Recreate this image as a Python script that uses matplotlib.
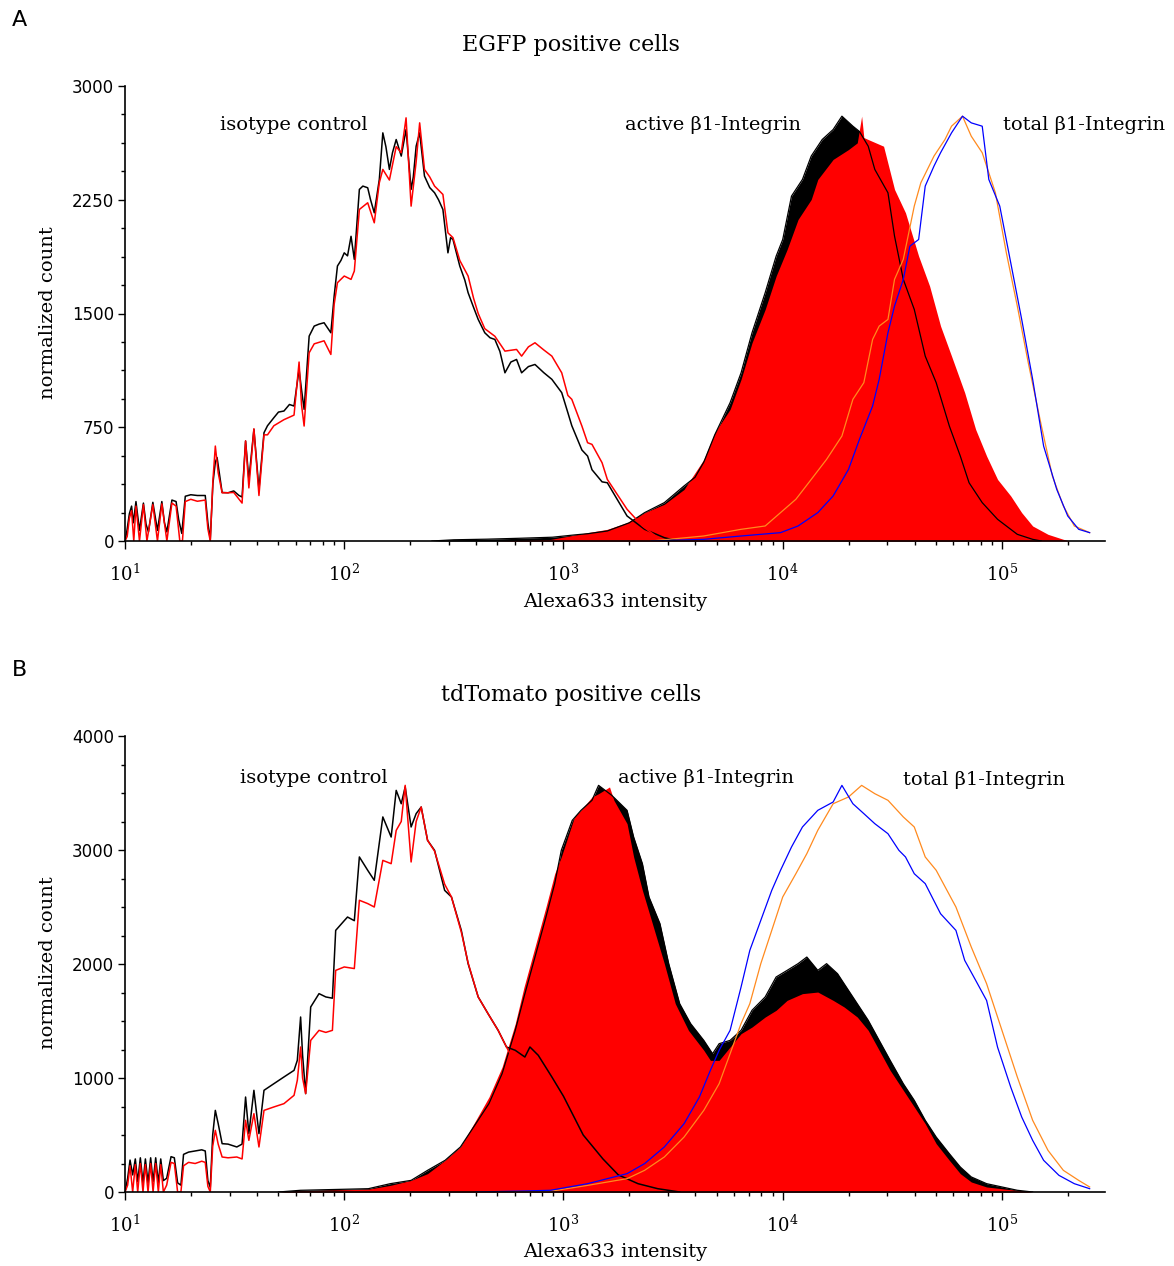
import numpy as np
import matplotlib
matplotlib.use("Agg")
import matplotlib.pyplot as plt
from matplotlib.ticker import MultipleLocator, LogLocator, FuncFormatter

# DATA ###############################################################
# each curve: (log10 Alexa633 intensity, normalized count)

# --- A: EGFP positive cells ---
A_ISO_BLACK = [
    (1.000, 0), (1.008, 60), (1.020, 180), (1.030, 230), (1.038, 120), (1.050, 260),
    (1.066, 70), (1.084, 250), (1.096, 110), (1.107, 60), (1.127, 255), (1.148, 70),
    (1.168, 260), (1.180, 120), (1.191, 60), (1.214, 270), (1.233, 260), (1.245, 140),
    (1.259, 50), (1.275, 295), (1.30, 305), (1.33, 300), (1.366, 300), (1.378, 120),
    (1.389, 10), (1.401, 380), (1.412, 520), (1.420, 550), (1.443, 320), (1.47, 318),
    (1.496, 330), (1.52, 300), (1.534, 290), (1.55, 659), (1.565, 406), (1.588, 736),
    (1.611, 340), (1.634, 714), (1.65, 760), (1.679, 813), (1.70, 850), (1.725, 857),
    (1.75, 900), (1.771, 890), (1.794, 1131), (1.805, 1000), (1.817, 868), (1.84, 1351),
    (1.863, 1417), (1.885, 1430), (1.908, 1439), (1.939, 1373), (1.954, 1615),
    (1.969, 1813), (1.985, 1850), (2.0, 1900), (2.015, 1880), (2.031, 2009),
    (2.046, 1857), (2.069, 2318), (2.085, 2340), (2.107, 2329), (2.12, 2250),
    (2.137, 2164), (2.16, 2384), (2.176, 2691), (2.19, 2600), (2.206, 2450),
    (2.22, 2560), (2.237, 2647), (2.26, 2538), (2.282, 2713), (2.305, 2318),
    (2.315, 2400), (2.328, 2603), (2.344, 2691), (2.366, 2406), (2.39, 2330),
    (2.412, 2296), (2.43, 2250), (2.45, 2186), (2.473, 1900), (2.485, 2000),
    (2.496, 1988), (2.527, 1813), (2.55, 1720), (2.565, 1637), (2.59, 1540),
    (2.611, 1461), (2.641, 1373), (2.665, 1340), (2.687, 1329), (2.71, 1250),
    (2.733, 1109), (2.76, 1180), (2.786, 1197), (2.809, 1109), (2.84, 1150),
    (2.87, 1164), (2.91, 1110), (2.947, 1066), (2.992, 978), (3.02, 846), (3.038, 760),
    (3.084, 600), (3.11, 560), (3.13, 470), (3.176, 390), (3.20, 384), (3.29, 165),
    (3.37, 77), (3.46, 22), (3.52, 0)]
A_ISO_RED = [
    (1.000, 0), (1.010, 30), (1.020, 150), (1.030, 200), (1.040, 0), (1.050, 230),
    (1.066, 0), (1.084, 240), (1.100, 0), (1.127, 240), (1.148, 0), (1.168, 245),
    (1.191, 0), (1.214, 250), (1.233, 230), (1.250, 0), (1.262, 0), (1.275, 260),
    (1.30, 275), (1.33, 262), (1.366, 270), (1.378, 80), (1.389, 0), (1.401, 400),
    (1.412, 626), (1.425, 450), (1.443, 318), (1.47, 318), (1.496, 320), (1.534, 250),
    (1.55, 660), (1.565, 350), (1.588, 740), (1.611, 300), (1.634, 700), (1.65, 700),
    (1.679, 760), (1.725, 800), (1.771, 830), (1.794, 1180), (1.805, 900), (1.817, 758),
    (1.84, 1241), (1.863, 1300), (1.908, 1320), (1.939, 1230), (1.954, 1560),
    (1.969, 1703), (2.0, 1747), (2.031, 1725), (2.046, 1780), (2.069, 2186),
    (2.107, 2230), (2.137, 2098), (2.16, 2362), (2.176, 2450), (2.206, 2380),
    (2.237, 2600), (2.26, 2560), (2.282, 2790), (2.305, 2208), (2.328, 2500),
    (2.344, 2757), (2.366, 2450), (2.39, 2400), (2.412, 2340), (2.45, 2285),
    (2.473, 2032), (2.496, 2000), (2.527, 1850), (2.565, 1747), (2.59, 1600),
    (2.611, 1500), (2.641, 1400), (2.687, 1350), (2.733, 1252), (2.786, 1263),
    (2.809, 1219), (2.84, 1280), (2.87, 1307), (2.91, 1260), (2.947, 1219),
    (2.992, 1109), (3.02, 960), (3.038, 934), (3.084, 758), (3.11, 648), (3.13, 637),
    (3.176, 516), (3.20, 406), (3.29, 209), (3.36, 99), (3.43, 22), (3.47, 0)]
A_ACTIVE_BLACK = [
    (2.40, 0), (2.50, 8), (2.65, 12), (2.80, 18), (2.95, 25), (3.05, 40), (3.11, 48),
    (3.20, 66), (3.30, 120), (3.37, 187), (3.46, 253), (3.55, 363), (3.60, 420),
    (3.64, 520), (3.69, 700), (3.76, 912), (3.81, 1109), (3.86, 1373), (3.92, 1637),
    (3.97, 1878), (4.00, 1988), (4.04, 2274), (4.09, 2384), (4.13, 2538), (4.18, 2647),
    (4.23, 2713), (4.27, 2801), (4.32, 2735), (4.35, 2700), (4.39, 2603), (4.42, 2450),
    (4.48, 2296), (4.51, 2010), (4.55, 1725), (4.60, 1527), (4.65, 1219), (4.70, 1044),
    (4.76, 758), (4.81, 560), (4.85, 384), (4.91, 253), (4.98, 143), (5.07, 44),
    (5.14, 11), (5.18, 0)]
A_ACTIVE_RED = [
    (2.70, 0), (2.94, 10), (3.11, 55), (3.20, 77), (3.29, 121), (3.37, 187), (3.46, 242),
    (3.55, 340), (3.64, 538), (3.69, 714), (3.76, 868), (3.81, 1066), (3.86, 1307),
    (3.92, 1527), (3.97, 1747), (4.02, 1922), (4.07, 2120), (4.13, 2252), (4.16, 2384),
    (4.23, 2516), (4.30, 2581), (4.34, 2625), (4.36, 2801), (4.37, 2660), (4.39, 2647),
    (4.46, 2603), (4.51, 2318), (4.56, 2164), (4.62, 1878), (4.67, 1681), (4.72, 1417),
    (4.77, 1219), (4.83, 978), (4.88, 736), (4.93, 560), (4.98, 406), (5.04, 297),
    (5.09, 187), (5.14, 99), (5.21, 44), (5.28, 11), (5.31, 0)]
A_TOTAL_ORANGE = [
    (3.40, 0), (3.64, 33), (3.81, 77), (3.92, 99), (3.99, 187), (4.06, 275), (4.13, 406),
    (4.20, 538), (4.27, 692), (4.32, 934), (4.37, 1044), (4.41, 1329), (4.44, 1417),
    (4.48, 1461), (4.51, 1725), (4.55, 1857), (4.60, 2208), (4.63, 2362), (4.69, 2538),
    (4.74, 2647), (4.77, 2735), (4.82, 2801), (4.86, 2669), (4.91, 2560), (4.97, 2296),
    (5.02, 1900), (5.07, 1549), (5.12, 1175), (5.18, 758), (5.23, 428), (5.28, 231),
    (5.33, 99), (5.40, 55)]
A_TOTAL_BLUE = [
    (3.40, 0), (3.64, 11), (3.81, 33), (3.99, 55), (4.07, 99), (4.16, 187), (4.23, 297),
    (4.30, 472), (4.35, 670), (4.41, 890), (4.44, 1066), (4.48, 1373), (4.51, 1549),
    (4.55, 1725), (4.58, 1944), (4.62, 1988), (4.65, 2340), (4.69, 2472), (4.72, 2560),
    (4.77, 2691), (4.82, 2801), (4.86, 2757), (4.91, 2735), (4.94, 2384), (4.99, 2208),
    (5.04, 1835), (5.09, 1461), (5.14, 1066), (5.19, 626), (5.25, 340), (5.30, 165),
    (5.35, 77), (5.40, 55)]

# --- B: tdTomato positive cells ---
B_ISO_BLACK = [
    (1.0, 0), (1.012, 120), (1.023, 280), (1.035, 150), (1.047, 290), (1.058, 90),
    (1.07, 300), (1.082, 80), (1.093, 290), (1.105, 80), (1.117, 300), (1.128, 90),
    (1.14, 300), (1.152, 80), (1.163, 290), (1.175, 100), (1.19, 120), (1.21, 310),
    (1.225, 300), (1.24, 80), (1.255, 60), (1.267, 330), (1.29, 350), (1.32, 360),
    (1.35, 370), (1.366, 360), (1.378, 100), (1.389, 40), (1.40, 500), (1.412, 716),
    (1.425, 600), (1.443, 424), (1.47, 420), (1.51, 395), (1.534, 420), (1.55, 833),
    (1.565, 512), (1.588, 892), (1.611, 512), (1.634, 892), (1.679, 950), (1.725, 1009),
    (1.771, 1067), (1.786, 1155), (1.801, 1535), (1.81, 1200), (1.824, 863),
    (1.847, 1623), (1.885, 1740), (1.916, 1711), (1.946, 1700), (1.961, 2295),
    (2.0, 2380), (2.015, 2412), (2.046, 2380), (2.069, 2939), (2.107, 2822),
    (2.137, 2734), (2.176, 3290), (2.214, 3114), (2.237, 3523), (2.26, 3406),
    (2.278, 3553), (2.305, 3202), (2.328, 3319), (2.351, 3377), (2.38, 3085),
    (2.412, 2997), (2.458, 2646), (2.489, 2588), (2.534, 2295), (2.565, 2003),
    (2.611, 1711), (2.656, 1564), (2.702, 1418), (2.74, 1272), (2.78, 1243),
    (2.824, 1184), (2.847, 1272), (2.885, 1199), (2.947, 1009), (3.0, 840),
    (3.09, 500), (3.18, 290), (3.25, 150), (3.34, 73), (3.43, 29), (3.53, 0)]
B_ISO_RED = [
    (1.0, 0), (1.012, 60), (1.023, 230), (1.035, 0), (1.047, 240), (1.058, 0),
    (1.07, 250), (1.082, 0), (1.093, 240), (1.105, 0), (1.117, 250), (1.128, 0),
    (1.14, 250), (1.152, 0), (1.163, 240), (1.175, 0), (1.19, 60), (1.21, 260),
    (1.225, 250), (1.24, 0), (1.255, 0), (1.267, 230), (1.29, 260), (1.32, 250),
    (1.35, 270), (1.366, 260), (1.378, 50), (1.389, 0), (1.40, 400), (1.412, 541),
    (1.425, 420), (1.443, 307), (1.47, 300), (1.51, 307), (1.534, 290), (1.55, 629),
    (1.565, 453), (1.588, 687), (1.611, 395), (1.634, 716), (1.679, 746), (1.725, 775),
    (1.771, 848), (1.786, 980), (1.801, 1272), (1.81, 1000), (1.824, 863),
    (1.847, 1330), (1.885, 1418), (1.916, 1400), (1.946, 1418), (1.961, 1944),
    (2.0, 1974), (2.046, 1960), (2.069, 2559), (2.107, 2530), (2.137, 2500),
    (2.176, 2909), (2.214, 2880), (2.237, 3172), (2.26, 3250), (2.278, 3567),
    (2.305, 2895), (2.328, 3250), (2.351, 3377), (2.38, 3085), (2.412, 2990),
    (2.458, 2700), (2.489, 2588), (2.534, 2280), (2.565, 2010), (2.611, 1711),
    (2.656, 1564), (2.702, 1418), (2.74, 1272), (2.76, 1200)]
B_ACTIVE_BLACK = [
    (1.70, 0), (1.80, 15), (2.11, 29), (2.21, 73), (2.305, 102), (2.38, 190),
    (2.46, 278), (2.53, 395), (2.60, 599), (2.66, 775), (2.72, 1038), (2.78, 1418),
    (2.82, 1711), (2.87, 2061), (2.92, 2412), (2.96, 2705), (2.99, 2997), (3.04, 3260),
    (3.08, 3348), (3.13, 3436), (3.16, 3567), (3.22, 3480), (3.29, 3348), (3.32, 3114),
    (3.36, 2880), (3.39, 2588), (3.44, 2354), (3.48, 2003), (3.53, 1652), (3.58, 1477),
    (3.64, 1330), (3.68, 1213), (3.71, 1301), (3.76, 1330), (3.81, 1418), (3.86, 1594),
    (3.92, 1711), (3.97, 1886), (4.02, 1944), (4.07, 2003), (4.11, 2061), (4.16, 1944),
    (4.20, 2003), (4.25, 1915), (4.28, 1827), (4.34, 1652), (4.39, 1506), (4.44, 1330),
    (4.49, 1155), (4.55, 950), (4.60, 804), (4.65, 629), (4.70, 482), (4.76, 336),
    (4.81, 219), (4.86, 132), (4.93, 73), (5.0, 44), (5.07, 15), (5.14, 0)]
B_ACTIVE_RED = [
    (1.70, 0), (1.80, 10), (2.11, 25), (2.21, 58), (2.305, 102), (2.38, 161),
    (2.46, 278), (2.53, 395), (2.60, 629), (2.66, 833), (2.72, 1097), (2.78, 1477),
    (2.82, 1798), (2.87, 2149), (2.92, 2500), (2.96, 2793), (2.99, 2939), (3.05, 3290),
    (3.08, 3350), (3.13, 3465), (3.16, 3494), (3.21, 3553), (3.23, 3436), (3.29, 3231),
    (3.32, 2939), (3.36, 2646), (3.41, 2325), (3.46, 2003), (3.51, 1652), (3.57, 1418),
    (3.64, 1243), (3.67, 1155), (3.71, 1155), (3.76, 1272), (3.81, 1389), (3.86, 1447),
    (3.92, 1535), (3.97, 1594), (4.02, 1681), (4.09, 1740), (4.16, 1754), (4.23, 1681),
    (4.28, 1623), (4.34, 1535), (4.39, 1418), (4.44, 1243), (4.49, 1067), (4.55, 892),
    (4.60, 746), (4.65, 599), (4.70, 424), (4.76, 278), (4.81, 161), (4.86, 88),
    (4.93, 44), (5.04, 20), (5.14, 0)]
B_TOTAL_BLUE = [
    (2.60, 0), (2.80, 8), (2.94, 15), (3.11, 73), (3.29, 161), (3.37, 249), (3.46, 395),
    (3.55, 599), (3.62, 833), (3.67, 1067), (3.71, 1243), (3.76, 1418), (3.81, 1798),
    (3.85, 2120), (3.90, 2383), (3.95, 2646), (3.99, 2822), (4.04, 3026), (4.09, 3202),
    (4.16, 3348), (4.23, 3421), (4.27, 3567), (4.32, 3406), (4.37, 3319), (4.42, 3231),
    (4.48, 3143), (4.53, 2997), (4.56, 2939), (4.60, 2792), (4.65, 2705), (4.72, 2441),
    (4.79, 2295), (4.83, 2032), (4.88, 1857), (4.93, 1680), (4.98, 1270), (5.04, 920),
    (5.09, 658), (5.14, 453), (5.19, 278), (5.26, 146), (5.33, 73), (5.40, 29)]
B_TOTAL_ORANGE = [
    (2.60, 0), (2.80, 4), (2.94, 6), (3.11, 58), (3.29, 117), (3.37, 190), (3.46, 307),
    (3.55, 482), (3.64, 716), (3.71, 950), (3.76, 1213), (3.81, 1477), (3.85, 1652),
    (3.90, 2003), (3.95, 2295), (4.00, 2588), (4.06, 2792), (4.11, 2968), (4.16, 3173),
    (4.23, 3406), (4.30, 3465), (4.36, 3567), (4.42, 3494), (4.48, 3436), (4.55, 3290),
    (4.60, 3202), (4.65, 2939), (4.70, 2822), (4.79, 2500), (4.86, 2149), (4.93, 1827),
    (5.00, 1418), (5.07, 1009), (5.14, 629), (5.21, 365), (5.28, 190), (5.35, 102),
    (5.40, 44)]

TITLES = ["EGFP positive cells", "tdTomato positive cells"]
PANEL_LETTERS = ["A", "B"]
Y_MAX = [3000, 4000]
Y_STEP = [750, 1000]

# STYLE ##############################################################
W, H = 1174, 1266
SERIF = "DejaVu Serif"
plt.rcParams["mathtext.fontset"] = "dejavuserif"


def xy(curve):
    arr = np.array(curve, dtype=float)
    return 10 ** arr[:, 0], arr[:, 1]


def fx(px):
    return px / W


def fy(py):
    return 1 - py / H


def draw_panel(ax, iso_k, iso_r, act_k, act_r, tot_o, tot_b, ymax, ystep):
    x, y = xy(act_k)
    ax.fill_between(x, y, 0, color="black", lw=0, zorder=1)
    x2, y2 = xy(act_r)
    ax.fill_between(x2, y2, 0, color="#ff0000", lw=0, zorder=2)
    ax.plot(x, y, color="black", lw=0.9, zorder=3)

    xi, yi = xy(iso_k)
    ax.plot(xi, yi, color="black", lw=1.1, zorder=4)
    xr, yr = xy(iso_r)
    ax.plot(xr, yr, color="#ff0000", lw=1.1, zorder=5)

    xo, yo = xy(tot_o)
    ax.plot(xo, yo, color="#ff8a1e", lw=0.9, zorder=6)
    xb, yb = xy(tot_b)
    ax.plot(xb, yb, color="#0000ff", lw=0.9, zorder=7)

    ax.set_xscale("log")
    ax.set_xlim(10, 10 ** 5.47)
    ax.set_ylim(0, ymax)
    ax.set_yticks(np.arange(0, ymax + 1, ystep))
    ax.yaxis.set_minor_locator(MultipleLocator(ystep / 4))
    ax.xaxis.set_major_locator(LogLocator(base=10, numticks=10))
    ax.xaxis.set_minor_locator(LogLocator(base=10, subs=np.arange(2, 10), numticks=20))
    ax.xaxis.set_major_formatter(FuncFormatter(lambda v, p: r"$10^{%d}$" % round(np.log10(v))))
    ax.xaxis.set_minor_formatter(FuncFormatter(lambda v, p: ""))

    for s in ["top", "right"]:
        ax.spines[s].set_visible(False)
    for s in ["left", "bottom"]:
        ax.spines[s].set_linewidth(1.2)
        ax.spines[s].set_zorder(10)
    ax.tick_params(axis="y", which="major", direction="out", length=5, width=1.0,
                   pad=3, labelsize=12)
    ax.tick_params(axis="y", which="minor", direction="out", length=3, width=1.0)
    ax.tick_params(axis="x", which="major", direction="out", length=6, width=1.0,
                   pad=10, labelsize=13)
    ax.tick_params(axis="x", which="minor", direction="out", length=3, width=1.0)
    for lab in ax.get_yticklabels():
        lab.set_fontfamily("DejaVu Sans")


fig = plt.figure(figsize=(W / 100, H / 100), dpi=100)

axA = fig.add_axes([fx(125), fy(541), fx(980), 455 / H])
axB = fig.add_axes([fx(125), fy(1192), fx(980), 456 / H])

draw_panel(axA, A_ISO_BLACK, A_ISO_RED, A_ACTIVE_BLACK, A_ACTIVE_RED,
           A_TOTAL_ORANGE, A_TOTAL_BLUE, Y_MAX[0], Y_STEP[0])
draw_panel(axB, B_ISO_BLACK, B_ISO_RED, B_ACTIVE_BLACK, B_ACTIVE_RED,
           B_TOTAL_ORANGE, B_TOTAL_BLUE, Y_MAX[1], Y_STEP[1])

# panel texts (pixel positions of the reference)
offsets = [0, 650]
label_pos = [
    [("isotype control", 220, 125), ("active β1-Integrin", 625, 125), ("total β1-Integrin", 1003, 125)],
    [("isotype control", 240, 778), ("active β1-Integrin", 618, 778), ("total β1-Integrin", 903, 780)],
]
for i in range(2):
    off = offsets[i]
    fig.text(fx(12), fy(20 + off), PANEL_LETTERS[i], fontsize=16, family="DejaVu Sans",
             ha="left", va="center")
    fig.text(fx(571), fy(45 + off), TITLES[i], fontsize=16, family=SERIF,
             ha="center", va="center")
    fig.text(fx(615), fy(602 + off), "Alexa633 intensity", fontsize=14, family=SERIF,
             ha="center", va="center")
    fig.text(fx(48), fy(313 + off), "normalized count", fontsize=14, family=SERIF,
             ha="center", va="center", rotation=90)
    for txt, px, py in label_pos[i]:
        fig.text(fx(px), fy(py), txt, fontsize=14, family=SERIF, ha="left", va="center")

plt.savefig("out.png", dpi=100)
